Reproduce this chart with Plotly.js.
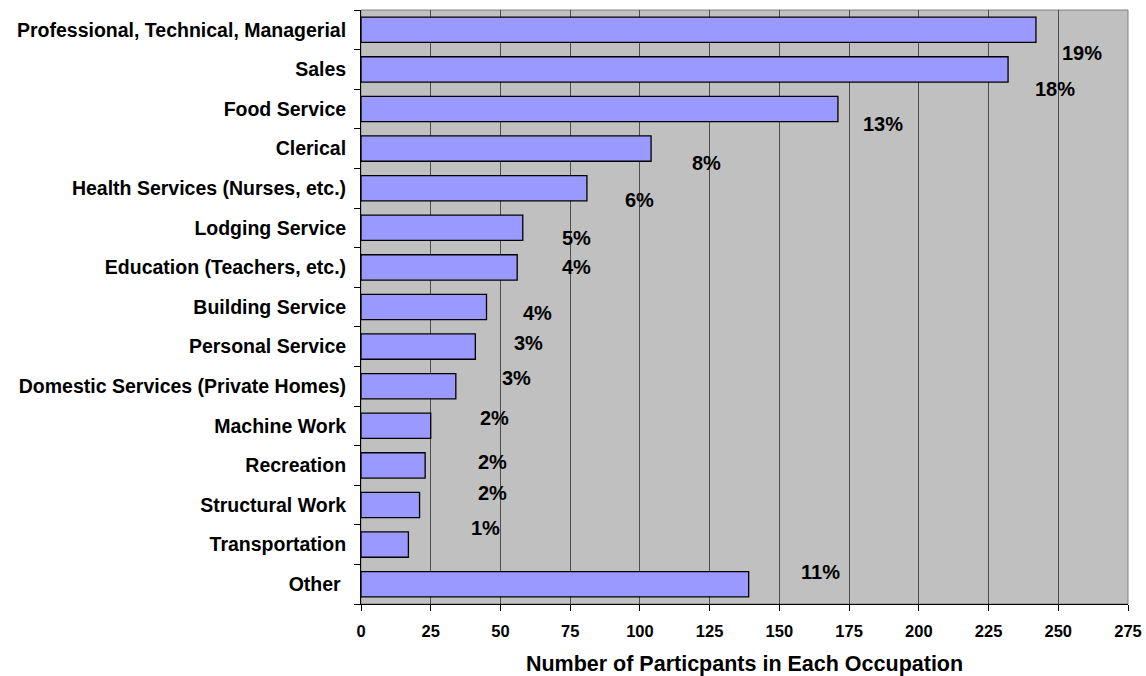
<!DOCTYPE html>
<html>
<head>
<meta charset="utf-8">
<script src="https://cdn.plot.ly/plotly-3.0.1.min.js"></script>
<style>html,body{margin:0;padding:0;background:#fff;}#chart{width:1146px;height:676px;}</style>
</head>
<body>
<div id="chart"></div>
<script>
// Data
var categories = [
  "Professional, Technical, Managerial",
  "Sales",
  "Food Service",
  "Clerical",
  "Health Services (Nurses, etc.)",
  "Lodging Service",
  "Education (Teachers, etc.)",
  "Building Service",
  "Personal Service",
  "Domestic Services (Private Homes)",
  "Machine Work",
  "Recreation",
  "Structural Work",
  "Transportation",
  "Other "
];
var participants = [242, 232, 171, 104, 81, 58, 56, 45, 41, 34, 25, 23, 21, 17, 139];
var percentLabels = ["19%", "18%", "13%", "8%", "6%", "5%", "4%", "4%", "3%", "3%", "2%", "2%", "2%", "1%", "11%"];
var xTicks = [0, 25, 50, 75, 100, 125, 150, 175, 200, 225, 250, 275];

// Label placement (layout only, as in the original chart)
var labelX = [258.4, 248.8, 187.2, 123.7, 99.7, 77.4, 77.4, 63.4, 59.9, 55.9, 47.7, 47.3, 47.3, 44.8, 164.6];
var labelShift = [-23, -20, -15, -14, -12, -10, 0, -6, 4, 8, 8, 3, 12, 17, 12];

var trace = {
  type: "bar",
  orientation: "h",
  x: participants,
  y: categories,
  marker: {color: "#9999FF", line: {color: "#000000", width: 1.3}},
  hoverinfo: "x+y"
};

var annotations = categories.map(function (c, i) {
  return {
    x: labelX[i], y: c, xref: "x", yref: "y",
    text: "<b>" + percentLabels[i] + "</b>",
    showarrow: false, yshift: labelShift[i],
    font: {family: "Liberation Sans, Arial, sans-serif", size: 20, color: "#000"}
  };
});

var layout = {
  width: 1146, height: 676,
  margin: {l: 361, r: 18, t: 10, b: 72, pad: 0},
  paper_bgcolor: "#ffffff",
  plot_bgcolor: "#C0C0C0",
  bargap: 0.36,
  showlegend: false,
  font: {family: "Liberation Sans, Arial, sans-serif", color: "#000"},
  xaxis: {
    range: [0, 275],
    tickvals: xTicks,
    ticktext: xTicks.map(function (t) { return "<b>" + t + "</b>"; }),
    ticks: "outside", ticklen: 6, tickcolor: "#000", tickwidth: 1,
    showgrid: true, gridcolor: "#4d4d4d", gridwidth: 1,
    showline: true, linecolor: "#000", linewidth: 1,
    zeroline: false,
    tickfont: {size: 16.5},
    ticklabelstandoff: 6,
    title: {text: "<b>Number of Particpants in Each Occupation</b>", font: {size: 21.5}, standoff: 20}
  },
  yaxis: {
    type: "category",
    range: [categories.length - 0.5, -0.5],
    autorange: false,
    tickson: "boundaries",
    ticks: "outside", ticklen: 6, tickcolor: "#000", tickwidth: 1,
    ticktext: categories.map(function (c) { return "<b>" + c + "</b>"; }),
    tickvals: categories,
    showgrid: false,
    showline: true, linecolor: "#000", linewidth: 1,
    tickfont: {size: 19.5},
    ticklabelstandoff: 10
  },
  shapes: [{
    type: "rect", xref: "paper", yref: "paper", x0: 0, x1: 1, y0: 0, y1: 1,
    line: {color: "#808080", width: 1}, layer: "below"
  }],
  annotations: annotations
};

Plotly.newPlot("chart", [trace], layout, {displayModeBar: false, staticPlot: true});
</script>
</body>
</html>
